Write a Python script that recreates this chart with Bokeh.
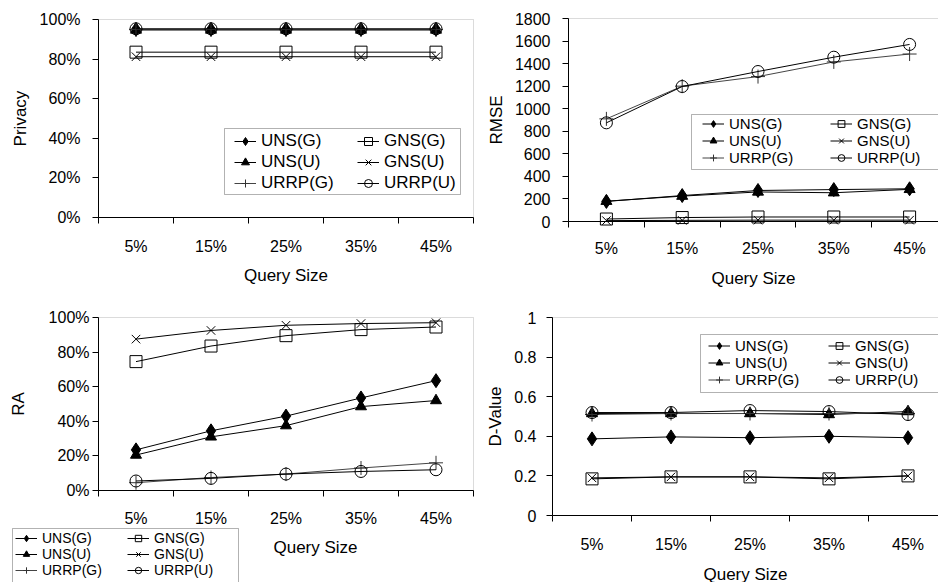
from bokeh.plotting import figure
from bokeh.models import (Legend, LegendItem, FixedTicker, Label, Range1d,
                          PrintfTickFormatter, CustomJSTickFormatter, BoxAnnotation)
from bokeh.layouts import column, row
from bokeh.embed import file_html
from bokeh.resources import INLINE

# ---------------- data ----------------
query_sizes = ["5%", "15%", "25%", "35%", "45%"]
legend_col1 = ["UNS(G)", "UNS(U)", "URRP(G)"]
legend_col2 = ["GNS(G)", "GNS(U)", "URRP(U)"]
draw_order = ["UNS(G)", "UNS(U)", "URRP(G)", "GNS(G)", "GNS(U)", "URRP(U)"]

privacy_uns_g = [95.0, 95.0, 95.0, 95.0, 95.0]
privacy_uns_u = [94.7, 94.7, 94.7, 94.7, 94.7]
privacy_gns_g = [83.5, 83.5, 83.5, 83.5, 83.5]
privacy_gns_u = [81.2, 81.2, 81.2, 81.2, 81.2]
privacy_urrp_g = [95.0, 95.0, 95.0, 95.0, 95.0]
privacy_urrp_u = [95.3, 95.3, 95.3, 95.3, 95.3]

rmse_uns_g = [178, 230, 275, 283, 290]
rmse_uns_u = [180, 225, 262, 255, 285]
rmse_gns_g = [22, 35, 40, 40, 40]
rmse_gns_u = [8, 10, 12, 12, 12]
rmse_urrp_g = [910, 1200, 1285, 1415, 1485]
rmse_urrp_u = [875, 1197, 1330, 1457, 1570]

ra_uns_g = [23.5, 34.5, 43.0, 53.5, 63.5]
ra_uns_u = [20.5, 31.0, 37.5, 48.5, 52.0]
ra_gns_g = [74.5, 83.5, 89.5, 93.0, 94.5]
ra_gns_u = [87.5, 92.5, 95.5, 96.5, 97.0]
ra_urrp_g = [4.5, 7.5, 9.5, 13.0, 16.0]
ra_urrp_u = [5.5, 7.0, 9.5, 11.0, 12.0]

d_uns_g = [0.387, 0.397, 0.393, 0.400, 0.393]
d_uns_u = [0.515, 0.515, 0.515, 0.510, 0.525]
d_gns_g = [0.185, 0.195, 0.195, 0.185, 0.200]
d_gns_u = [0.190, 0.195, 0.195, 0.190, 0.200]
d_urrp_g = [0.510, 0.515, 0.515, 0.515, 0.515]
d_urrp_u = [0.520, 0.520, 0.530, 0.525, 0.510]

privacy_ticks = [0, 20, 40, 60, 80, 100]
rmse_ticks = [0, 200, 400, 600, 800, 1000, 1200, 1400, 1600, 1800]
ra_ticks = [0, 20, 40, 60, 80, 100]
d_ticks = [0, 0.2, 0.4, 0.6, 0.8, 1.0]

FONT = "Liberation Sans"

STYLE = {
    "UNS(G)": dict(marker="diamond", size=14, fill_color="black", line_color="black"),
    "UNS(U)": dict(marker="triangle", size=11, fill_color="black", line_color="black"),
    "URRP(G)": dict(marker="cross", size=14, fill_color=None, line_color="#333333"),
    "GNS(G)": dict(marker="square", size=12, fill_color=None, line_color="black"),
    "GNS(U)": dict(marker="x", size=12, fill_color=None, line_color="black"),
    "URRP(U)": dict(marker="circle", size=12, fill_color=None, line_color="black"),
}
LINE_COLOR = {"UNS(G)": "black", "UNS(U)": "black", "URRP(G)": "#444444",
              "GNS(G)": "black", "GNS(U)": "black", "URRP(U)": "black"}
BORDER = "#888888"
NCAT = len(query_sizes)


def make_panel(series, y_ticks, y_formatter, y_title, width, height,
               axis_x_px, cat_px, top_px, zero_px, legend_spec,
               ytick_standoff, ylab_standoff, xtick_standoff, xlab_standoff,
               x_title="Query Size", right_border=True):
    """The frame fills the whole canvas; the axes are drawn at the data origin,
    so that legends and titles may sit anywhere in the panel."""
    y_top = y_ticks[-1]
    y_scale = (zero_px - top_px) / y_top
    x_start = 0.5 - axis_x_px / cat_px
    x_end = x_start + width / cat_px
    y_end = y_top + top_px / y_scale
    y_start = -(height - zero_px) / y_scale

    def dx(px):  # panel pixel -> data x
        return x_start + px / cat_px

    def dy(py):  # panel pixel -> data y
        return y_end - py / y_scale

    p = figure(width=width, height=height, output_backend="svg", toolbar_location=None,
               x_range=Range1d(x_start, x_end), y_range=Range1d(y_start, y_end),
               min_border_left=0, min_border_right=0, min_border_top=0, min_border_bottom=0)
    p.outline_line_color = None
    p.grid.visible = False
    p.background_fill_color = "white"
    p.border_fill_color = "white"

    xs = [i + 1 for i in range(NCAT)]
    renderers = {}
    for name in draw_order:
        vals = series[name]
        rl = p.line(xs, vals, line_color=LINE_COLOR[name], line_width=1)
        rm = p.scatter(xs, vals, line_width=1, **STYLE[name])
        renderers[name] = [rl, rm]

    bounds_x = (0.5, NCAT + 0.5)
    # plot-area border (top and right; left/bottom are covered by the axes)
    p.add_layout(BoxAnnotation(left=bounds_x[0], right=bounds_x[1] if right_border else bounds_x[1] + 1,
                               bottom=y_ticks[0], top=y_top,
                               fill_alpha=0, line_color=BORDER, line_width=1, level="underlay"))

    xa = p.xaxis[0]
    xa.fixed_location = y_ticks[0]
    xa.bounds = bounds_x
    xa.ticker = FixedTicker(ticks=xs, minor_ticks=[i + 0.5 for i in range(NCAT + 1)])
    xa.major_label_overrides = {x: lab for x, lab in zip(xs, query_sizes)}
    xa.major_tick_out = 0
    xa.major_tick_in = 0
    xa.minor_tick_out = 6
    xa.minor_tick_in = 0
    xa.minor_tick_line_color = "black"
    xa.axis_line_color = "black"
    xa.major_label_text_font = FONT
    xa.major_label_text_font_size = "16px"
    xa.major_label_text_color = "black"
    xa.major_label_standoff = xtick_standoff
    if x_title:
        xa.axis_label = x_title
        xa.axis_label_text_font = FONT
        xa.axis_label_text_font_size = "17px"
        xa.axis_label_text_font_style = "normal"
        xa.axis_label_text_color = "black"
        xa.axis_label_standoff = xlab_standoff

    ya = p.yaxis[0]
    ya.fixed_location = bounds_x[0]
    ya.bounds = (y_ticks[0], y_top)
    ya.ticker = FixedTicker(ticks=y_ticks, minor_ticks=[])
    ya.formatter = y_formatter
    ya.major_tick_out = 6
    ya.major_tick_in = 0
    ya.minor_tick_out = 0
    ya.minor_tick_in = 0
    ya.axis_line_color = "black"
    ya.major_tick_line_color = "black"
    ya.major_label_text_font = FONT
    ya.major_label_text_font_size = "16px"
    ya.major_label_text_color = "black"
    ya.major_label_standoff = ytick_standoff
    ya.axis_label = y_title
    ya.axis_label_text_font = FONT
    ya.axis_label_text_font_size = "17px"
    ya.axis_label_text_font_style = "normal"
    ya.axis_label_text_color = "black"
    ya.axis_label_standoff = ylab_standoff

    # legend: a framed box holding two one-column legends
    font, item_h, spacing, col_x, row1_y, box = legend_spec
    bl, bt, br, bb = box
    p.add_layout(BoxAnnotation(left=dx(bl), right=dx(br), top=dy(bt), bottom=dy(bb),
                               fill_color="white", fill_alpha=1.0,
                               line_color="black", line_width=1))
    leg_h = 3 * item_h + 2 * spacing
    leg_bottom_px = row1_y - item_h / 2 + leg_h
    for names, cx in zip((legend_col1, legend_col2), col_x):
        items = [LegendItem(label=n, renderers=renderers[n]) for n in names]
        leg = Legend(items=items, location=(cx, int(round(height - leg_bottom_px))), ncols=1,
                     label_text_font=FONT, label_text_font_size=font, label_text_color="black",
                     label_height=item_h, glyph_height=item_h, glyph_width=22,
                     label_standoff=5, spacing=spacing, padding=0, margin=0,
                     border_line_color=None, background_fill_alpha=0.0)
        p.add_layout(leg)
    return p, dx, dy


pct = PrintfTickFormatter(format="%d%%")
pct2 = PrintfTickFormatter(format="%d%%")
plain = PrintfTickFormatter(format="%d")
dfmt = CustomJSTickFormatter(code="return (tick == 0 || tick == 1) ? tick.toFixed(0) : tick.toFixed(1);")

S_priv = {"UNS(G)": privacy_uns_g, "UNS(U)": privacy_uns_u, "GNS(G)": privacy_gns_g,
          "GNS(U)": privacy_gns_u, "URRP(G)": privacy_urrp_g, "URRP(U)": privacy_urrp_u}
S_rmse = {"UNS(G)": rmse_uns_g, "UNS(U)": rmse_uns_u, "GNS(G)": rmse_gns_g,
          "GNS(U)": rmse_gns_u, "URRP(G)": rmse_urrp_g, "URRP(U)": rmse_urrp_u}
S_ra = {"UNS(G)": ra_uns_g, "UNS(U)": ra_uns_u, "GNS(G)": ra_gns_g,
        "GNS(U)": ra_gns_u, "URRP(G)": ra_urrp_g, "URRP(U)": ra_urrp_u}
S_d = {"UNS(G)": d_uns_g, "UNS(U)": d_uns_u, "GNS(G)": d_gns_g,
       "GNS(U)": d_gns_u, "URRP(G)": d_urrp_g, "URRP(U)": d_urrp_u}

# legend specs: (font, item height, spacing, (col1 x, col2 x), first-row y, box l,t,r,b) in panel px
p1, _, _ = make_panel(S_priv, privacy_ticks, pct, "Privacy", 474, 300,
                      98, 75.0, 19, 217,
                      ("17px", 20, 1, (234, 357), 141, (224, 128, 460, 194)),
                      12, 7, 14, 8)
p2, _, _ = make_panel(S_rmse, rmse_ticks, plain, "RMSE", 464, 300,
                      94, 75.8, 18, 221,
                      ("15px", 17, 0, (228, 356), 124, (217, 114, 470, 169)),
                      12, 6, 12, 9, right_border=False)
p3, dx3, dy3 = make_panel(S_ra, ra_ticks, pct2, "RA", 474, 282,
                          98, 75.0, 17, 190,
                          ("14px", 16, 0, (15, 127), 238, (12, 228, 238, 290)),
                          3, 18, 13, 8, x_title=None)
p4, _, _ = make_panel(S_d, d_ticks, dfmt, "D-Value", 464, 282,
                      78, 79.0, 17, 215,
                      ("15px", 17, 0, (234, 354), 46, (226, 34, 470, 92)),
                      10, 6, 14, 9, right_border=False)

# the x-axis title of the bottom-left panel sits to the right of its legend
p3.add_layout(Label(x=dx3(315), y=dy3(247), text="Query Size", text_font=FONT, text_font_size="17px",
                    text_color="black", text_align="center", text_baseline="middle"))

layout = column(row(p1, p2, spacing=0), row(p3, p4, spacing=0), spacing=0)
open("out.html", "w").write(file_html(layout, INLINE))
